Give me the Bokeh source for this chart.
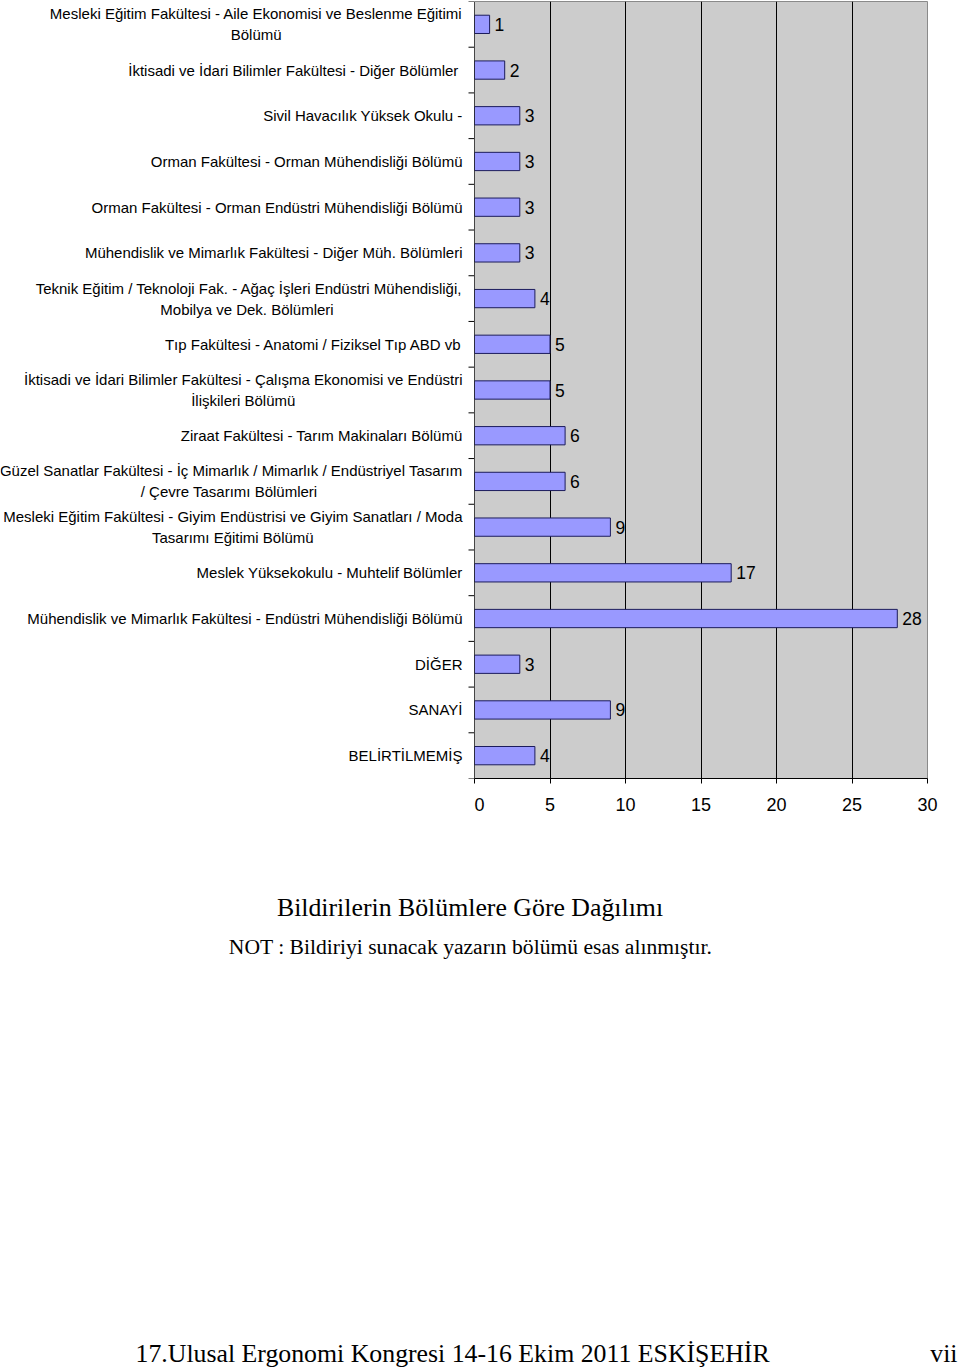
from bokeh.plotting import figure
from bokeh.layouts import column, row
from bokeh.models import Range1d, FixedTicker, Span
from bokeh.core.properties import value
from bokeh.embed import file_html
from bokeh.resources import INLINE

# ---------------- data ----------------
categories = [
    "Mesleki Eğitim Fakültesi - Aile Ekonomisi ve Beslenme Eğitimi\nBölümü",
    "İktisadi ve İdari Bilimler Fakültesi - Diğer  Bölümler",
    "Sivil Havacılık Yüksek Okulu -",
    "Orman Fakültesi - Orman Mühendisliği Bölümü",
    "Orman Fakültesi - Orman Endüstri Mühendisliği Bölümü",
    "Mühendislik ve Mimarlık Fakültesi - Diğer Müh. Bölümleri",
    "Teknik Eğitim / Teknoloji Fak. - Ağaç İşleri Endüstri Mühendisliği,\nMobilya ve Dek.  Bölümleri",
    "Tıp Fakültesi - Anatomi / Fiziksel Tıp ABD vb",
    "İktisadi ve İdari Bilimler Fakültesi - Çalışma Ekonomisi ve Endüstri\nİlişkileri Bölümü",
    "Ziraat Fakültesi - Tarım Makinaları Bölümü",
    "Güzel Sanatlar Fakültesi - İç Mimarlık / Mimarlık / Endüstriyel Tasarım\n/ Çevre Tasarımı  Bölümleri",
    "Mesleki Eğitim Fakültesi - Giyim Endüstrisi ve Giyim Sanatları / Moda\nTasarımı Eğitimi Bölümü",
    "Meslek Yüksekokulu - Muhtelif Bölümler",
    "Mühendislik ve Mimarlık Fakültesi - Endüstri Mühendisliği Bölümü",
    "DİĞER",
    "SANAYİ",
    "BELİRTİLMEMİŞ",
]
counts = [1, 2, 3, 3, 3, 3, 4, 5, 5, 6, 6, 9, 17, 28, 3, 9, 4]
x_ticks = [0, 5, 10, 15, 20, 25, 30]
title_text = "Bildirilerin Bölümlere Göre Dağılımı"
note_text = "NOT : Bildiriyi sunacak yazarın bölümü esas alınmıştır."
footer_text = "17.Ulusal Ergonomi Kongresi 14-16 Ekim 2011 ESKİŞEHİR"
page_text = "vii"

# ---------------- layout constants ----------------
n = len(categories)
ys = [i + 0.5 for i in range(n)]
boundaries = list(range(n + 1))

FRAME_TOP = 1
FRAME_H = 777
BOTTOM = 45
H1 = FRAME_TOP + FRAME_H + BOTTOM
LABEL_W = 474
CHART_W = 960 - LABEL_W
RIGHT = 33

yr = Range1d(n, 0)

# ---------------- category label panel ----------------
lab = figure(width=LABEL_W, height=H1, x_range=Range1d(0, LABEL_W), y_range=yr,
             output_backend="svg", toolbar_location=None,
             x_axis_location=None, y_axis_location=None,
             min_border_left=0, min_border_right=0,
             min_border_top=FRAME_TOP, min_border_bottom=BOTTOM,
             outline_line_color=None, background_fill_color="white",
             border_fill_color="white")
for g in lab.grid:
    g.visible = False

lab.text(x=[LABEL_W - 12] * n, y=ys, text=categories,
         anchor="center_right", text_align="center", text_baseline="middle",
         text_font=value("Liberation Sans"), text_font_size="15px",
         text_line_height=1.23, text_color="black")
lab.segment(x0=[LABEL_W - 6] * (n + 1), x1=[LABEL_W] * (n + 1),
            y0=boundaries, y1=boundaries, line_color="black", line_width=1)

# ---------------- chart ----------------
p = figure(width=CHART_W, height=H1, x_range=Range1d(0, 30), y_range=yr,
           output_backend="svg", toolbar_location=None, y_axis_location=None,
           min_border_left=0, min_border_right=RIGHT,
           min_border_top=FRAME_TOP, min_border_bottom=BOTTOM,
           background_fill_color="#cccccc", border_fill_color="white",
           outline_line_color="#8a8a8a")
p.xaxis.ticker = FixedTicker(ticks=x_ticks)
p.xaxis.major_tick_out = 5
p.xaxis.major_tick_in = 0
p.xaxis.minor_tick_out = 0
p.xaxis.minor_tick_in = 0
p.xaxis.axis_line_color = "black"
p.xaxis.major_tick_line_color = "black"
p.xaxis.major_label_text_font = "Liberation Sans"
p.xaxis.major_label_text_font_size = "18px"
p.xaxis.major_label_text_color = "black"
p.xaxis.major_label_standoff = 14
p.xgrid.ticker = FixedTicker(ticks=x_ticks[1:-1])
p.xgrid.grid_line_color = "black"
p.xgrid.grid_line_width = 1
p.ygrid.visible = False

p.hbar(y=ys, left=0, right=counts, height=0.4,
       fill_color="#9999ff", line_color="#1c1c5c", line_width=1)
p.text(x=counts, y=ys, text=[str(c) for c in counts], x_offset=5,
       text_align="left", text_baseline="middle",
       text_font=value("Liberation Sans"), text_font_size="17.5px",
       text_color="black")
p.add_layout(Span(location=0, dimension="height", line_color="black", line_width=1))

# ---------------- captions ----------------
H2 = 1368 - H1
t = figure(width=960, height=H2, x_range=Range1d(0, 960), y_range=Range1d(1368, H1),
           output_backend="svg", toolbar_location=None,
           x_axis_location=None, y_axis_location=None,
           min_border_left=0, min_border_right=0, min_border_top=0, min_border_bottom=0,
           outline_line_color=None, border_fill_color="white", background_fill_color="white")
for g in t.grid:
    g.visible = False

t.text(x=[469.5], y=[907], text=[title_text], text_align="center", text_baseline="middle",
       text_font=value("Liberation Serif"), text_font_size="25.8px", text_color="black")
t.text(x=[470], y=[946], text=[note_text], text_align="center", text_baseline="middle",
       text_font=value("Liberation Serif"), text_font_size="21.6px", text_color="black")
t.text(x=[135], y=[1353], text=[footer_text], text_align="left", text_baseline="middle",
       text_font=value("Liberation Serif"), text_font_size="25.8px", text_color="black")
t.text(x=[957], y=[1353], text=[page_text], text_align="right", text_baseline="middle",
       text_font=value("Liberation Serif"), text_font_size="25.8px", text_color="black")

layout = column(row(lab, p), t)
open("out.html", "w").write(file_html(layout, INLINE))
